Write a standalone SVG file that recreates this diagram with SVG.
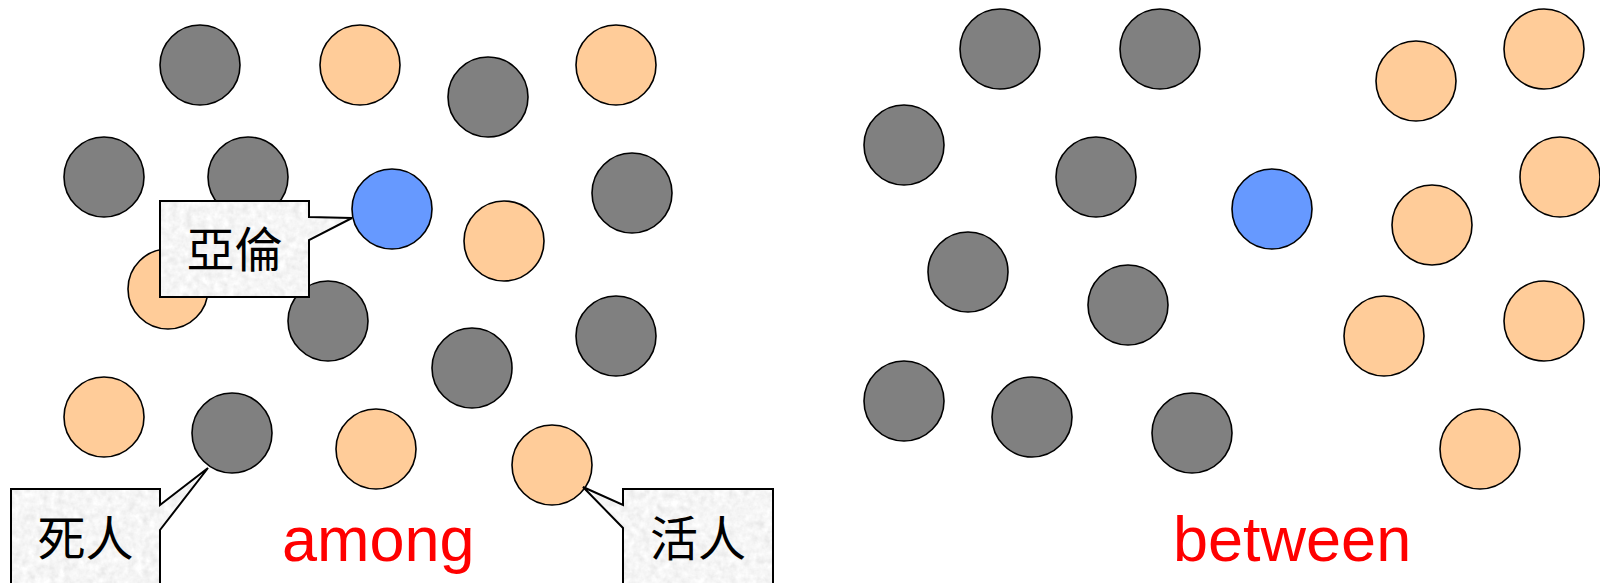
<svg xmlns="http://www.w3.org/2000/svg" width="1600" height="583" viewBox="0 0 1600 583">
  <style>
    .dot { stroke: #000; stroke-width: 1.6; }
    .gray { fill: #808080; }
    .peach { fill: #FFCC99; }
    .blue { fill: #6699FF; }
    .callout-fill { fill: #ececec; stroke: none; }
    .callout-line { fill: none; stroke: #000; stroke-width: 2; stroke-linejoin: miter; }
    .cjk { font-family: "Noto Sans CJK TC", "Noto Sans CJK JP", sans-serif; font-size: 48px; fill: #000; text-anchor: middle; }
    .word { font-family: "Liberation Sans", Arial, sans-serif; font-size: 63px; fill: #FF0000; }
  </style>
  <defs>
    <filter id="granite" x="0" y="0" width="100%" height="100%">
      <feTurbulence type="fractalNoise" baseFrequency="0.14" numOctaves="3" seed="5" result="noise"/>
      <feColorMatrix in="noise" type="matrix" values="0.33 0.33 0.33 0 0  0.33 0.33 0.33 0 0  0.33 0.33 0.33 0 0  0 0 0 0 1" result="gray"/>
      <feComponentTransfer in="gray" result="light">
        <feFuncR type="linear" slope="0.5" intercept="0.67"/>
        <feFuncG type="linear" slope="0.5" intercept="0.67"/>
        <feFuncB type="linear" slope="0.5" intercept="0.67"/>
      </feComponentTransfer>
      <feComposite in="light" in2="SourceGraphic" operator="in"/>
    </filter>
  </defs>
  <rect width="1600" height="583" fill="#fff"/>

  <g id="among-dots">
    <circle class="dot gray" cx="200" cy="65" r="40"/>
    <circle class="dot peach" cx="360" cy="65" r="40"/>
    <circle class="dot peach" cx="616" cy="65" r="40"/>
    <circle class="dot gray" cx="488" cy="97" r="40"/>
    <circle class="dot gray" cx="104" cy="177" r="40"/>
    <circle class="dot gray" cx="248" cy="177" r="40"/>
    <circle class="dot gray" cx="632" cy="193" r="40"/>
    <circle class="dot peach" cx="504" cy="241" r="40"/>
    <circle class="dot peach" cx="168" cy="289" r="40"/>
    <circle class="dot gray" cx="328" cy="321" r="40"/>
    <circle class="dot gray" cx="616" cy="336" r="40"/>
    <circle class="dot gray" cx="472" cy="368" r="40"/>
    <circle class="dot peach" cx="104" cy="417" r="40"/>
    <circle class="dot gray" cx="232" cy="433" r="40"/>
    <circle class="dot peach" cx="376" cy="449" r="40"/>
    <circle class="dot peach" cx="552" cy="465" r="40"/>
    <circle id="among-aaron" class="dot blue" cx="392" cy="209" r="40"/>
  </g>

  <g id="between-dots">
    <circle class="dot gray" cx="1000" cy="49" r="40"/>
    <circle class="dot gray" cx="1160" cy="49" r="40"/>
    <circle class="dot gray" cx="904" cy="145" r="40"/>
    <circle class="dot gray" cx="1096" cy="177" r="40"/>
    <circle class="dot gray" cx="968" cy="272" r="40"/>
    <circle class="dot gray" cx="1128" cy="305" r="40"/>
    <circle class="dot gray" cx="904" cy="401" r="40"/>
    <circle class="dot gray" cx="1032" cy="417" r="40"/>
    <circle class="dot gray" cx="1192" cy="433" r="40"/>
    <circle class="dot peach" cx="1416" cy="81" r="40"/>
    <circle class="dot peach" cx="1544" cy="49" r="40"/>
    <circle class="dot peach" cx="1560" cy="177" r="40"/>
    <circle class="dot peach" cx="1432" cy="225" r="40"/>
    <circle class="dot peach" cx="1384" cy="336" r="40"/>
    <circle class="dot peach" cx="1544" cy="321" r="40"/>
    <circle class="dot peach" cx="1480" cy="449" r="40"/>
    <circle id="between-aaron" class="dot blue" cx="1272" cy="209" r="40"/>
  </g>

  <g id="callout-aaron">
    <path class="callout-fill" filter="url(#granite)" d="M160,201 H309 V217 L352,218 L309,240 V297 H160 Z"/>
    <path class="callout-line" d="M160,201 H309 V217 L352,218 L309,240 V297 H160 Z"/>
    <text class="cjk" x="234.5" y="267">亞倫</text>
  </g>

  <g id="callout-dead">
    <path class="callout-fill" filter="url(#granite)" d="M11,489 H160 V505 L208,468 L160,530 V592 H11 Z"/>
    <path class="callout-line" d="M11,489 H160 V505 L208,468 L160,530 V592 H11 Z"/>
    <text class="cjk" x="85.5" y="556">死人</text>
  </g>

  <g id="callout-living">
    <path class="callout-fill" filter="url(#granite)" d="M623,489 H773 V592 H623 V528 L583,487 L623,505 Z"/>
    <path class="callout-line" d="M623,489 H773 V592 H623 V528 L583,487 L623,505 Z"/>
    <text class="cjk" x="698" y="556">活人</text>
  </g>

  <g id="connectors"></g>

  <g id="labels">
    <text class="word" x="282" y="561">among</text>
    <text class="word" x="1173" y="561">between</text>
  </g>
</svg>
